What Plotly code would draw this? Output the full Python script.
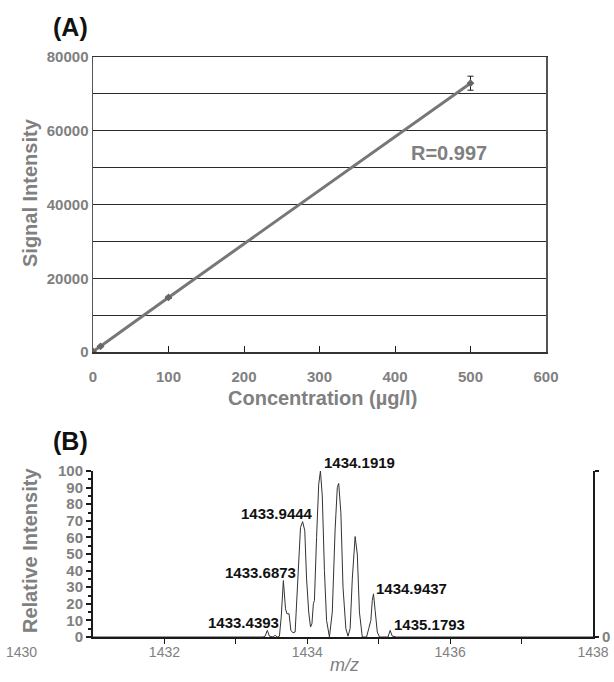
import plotly.graph_objects as go

# ---------------- Panel A data ----------------
conc = [0, 10, 100, 500]
signal = [150, 1550, 14800, 72900]
signal_err = [100, 150, 300, 1900]
r_text = "R=0.997"
a_xticks = [0, 100, 200, 300, 400, 500, 600]

# ---------------- Panel B data ----------------
mz = [1431.0, 1433.38, 1433.41, 1433.44, 1433.47, 1433.52, 1433.55, 1433.58,
      1433.61, 1433.635, 1433.665, 1433.695, 1433.715, 1433.745, 1433.77,
      1433.80, 1433.83, 1433.87, 1433.905, 1433.935, 1433.965, 1433.99,
      1434.02, 1434.045, 1434.065, 1434.085, 1434.10, 1434.13, 1434.16,
      1434.184, 1434.21, 1434.24, 1434.27, 1434.31, 1434.35, 1434.39,
      1434.42, 1434.44, 1434.47, 1434.50, 1434.54, 1434.57, 1434.60,
      1434.63, 1434.67, 1434.70, 1434.73, 1434.77, 1434.83, 1434.86,
      1434.89, 1434.91, 1434.927, 1434.95, 1434.98, 1435.01, 1435.13,
      1435.16, 1435.19, 1435.25, 1438.0]
intensity = [0, 0, 0.5, 4, 0.5, 0, 1, 0,
             0.5, 12, 34, 17, 14, 14, 4,
             2.5, 3, 35, 66, 69.5, 64, 35,
             15, 6, 8, 20, 22, 60, 92,
             100, 85, 40, 10, 0, 15, 65,
             90, 92.5, 75, 30, 5, 0.5, 5,
             35, 60.5, 50, 15, 0, 0, 5,
             10, 22, 26, 16, 3, 0, 0,
             4, 0.5, 0, 0]
peak_labels = ["1434.1919", "1433.9444", "1433.6873", "1434.9437", "1433.4393", "1435.1793"]
peak_label_x = [1434.724, 1433.576, 1433.338, 1435.452, 1433.100, 1435.704]
peak_label_y = [105.4, 74.1, 38.6, 29.5, 9.0, 7.8]
b_xtick_vals = [1430, 1432, 1434, 1436, 1438]
b_minor_ticks = [1432, 1433, 1434, 1435, 1436, 1437]

W, H = 614, 682
FONT = "Liberation Sans, Arial, Helvetica, sans-serif"
GRAY = "#808080"
DARK = "#1a1a1a"

# panel B vertical pixel geometry
B_BOTTOM, B_TOP = 637, 471


def px(x):
    return x / W


def py(y):
    return 1 - y / H


def b_paper_y(v):
    return py(B_BOTTOM - v * (B_BOTTOM - B_TOP) / 100.0)


fig = go.Figure()

# Panel A: calibration line
fig.add_trace(go.Scatter(
    x=conc, y=signal, mode="lines+markers",
    line=dict(color="#777777", width=3),
    marker=dict(symbol="diamond", size=6, color="#666666"),
    error_y=dict(type="data", array=signal_err, color=DARK, thickness=1, width=3),
    xaxis="x", yaxis="y", showlegend=False, hoverinfo="skip"))

# Panel B: spectrum
fig.add_trace(go.Scatter(
    x=mz, y=intensity, mode="lines",
    line=dict(color="#333333", width=1),
    xaxis="x3", yaxis="y2", showlegend=False, hoverinfo="skip"))
# empty traces so the label axis and the right axis render
fig.add_trace(go.Scatter(x=[], y=[], xaxis="x2", yaxis="y2", showlegend=False, hoverinfo="skip"))
fig.add_trace(go.Scatter(x=[], y=[], xaxis="x3", yaxis="y3", showlegend=False, hoverinfo="skip"))

L_B = 93 - 500 / 7  # pixel position of 1430

fig.update_layout(
    width=W, height=H, autosize=False,
    margin=dict(l=0, r=0, t=0, b=0),
    paper_bgcolor="white", plot_bgcolor="white",
    font=dict(family=FONT, color=GRAY),
    xaxis=dict(
        domain=[px(93), px(546)], range=[0, 600], anchor="y",
        tickvals=a_xticks, ticks="inside", ticklen=6, tickcolor=DARK,
        showline=True, linecolor="#333333", linewidth=1.5, mirror=True,
        showgrid=False, zeroline=False, automargin=False,
        tickfont=dict(size=15, color=GRAY, family=FONT, weight="bold"),
        ticklabelstandoff=10),
    yaxis=dict(
        domain=[py(352), py(57)], range=[0, 80000], anchor="x",
        tick0=0, dtick=20000, tickformat="d", ticks="",
        showline=True, linecolor="#555555", linewidth=1.5, mirror=True,
        showgrid=True, gridcolor="#2a2a2a", gridwidth=1,
        minor=dict(dtick=10000, tick0=0, showgrid=True, gridcolor="#2a2a2a", gridwidth=1),
        zeroline=False, automargin=False,
        tickfont=dict(size=15, color=GRAY, family=FONT, weight="bold")),
    # label axis for panel B (1430..1438)
    xaxis2=dict(
        domain=[px(L_B), px(593)], range=[1430, 1438], anchor="y2",
        tickvals=b_xtick_vals, ticks="", showline=False, showgrid=False,
        zeroline=False, automargin=False,
        tickfont=dict(size=14, color=GRAY, family=FONT),
        ticklabelstandoff=5),
    # data axis for panel B (1431..1438)
    xaxis3=dict(
        domain=[px(93), px(593)], range=[1431, 1438], anchor="y2",
        tickvals=b_minor_ticks, ticks="outside", ticklen=5, tickcolor=DARK,
        showticklabels=False, showline=True, linecolor=DARK, linewidth=2,
        showgrid=False, zeroline=False, automargin=False),
    yaxis2=dict(
        domain=[py(B_BOTTOM), py(B_TOP)], range=[0, 100], anchor="x3", side="left",
        tick0=0, dtick=10, ticks="outside", ticklen=5, tickwidth=2, tickcolor=DARK,
        minor=dict(dtick=5, tick0=0, ticks="outside", ticklen=3, tickcolor=DARK),
        showline=True, linecolor=DARK, linewidth=2, showgrid=False,
        zeroline=False, automargin=False,
        tickfont=dict(size=15, color=GRAY, family=FONT, weight="bold")),
    yaxis3=dict(
        overlaying="y2", range=[0, 100], anchor="x3", side="right",
        tickvals=[0, 100], ticktext=["0", ""], ticks="outside", ticklen=4,
        tickwidth=2, tickcolor=DARK,
        showline=True, linecolor=DARK, linewidth=2, showgrid=False,
        zeroline=False, automargin=False,
        tickfont=dict(size=15, color=GRAY, family=FONT, weight="bold")),
)


def note(text, x, y, size, color, angle=0):
    return dict(text=text, x=px(x), y=py(y), xref="paper", yref="paper",
                xanchor="center", yanchor="middle", textangle=angle,
                showarrow=False, font=dict(size=size, color=color, family=FONT))


annotations = [
    note("<b>(A)</b>", 70, 27, 25, "#111111"),
    note("<b>(B)</b>", 70, 441, 25, "#111111"),
    note("<b>Signal Intensity</b>", 30, 193, 20, GRAY, -90),
    note("<b>Concentration (µg/l)</b>", 322, 398, 20, GRAY),
    note("<b>Relative Intensity</b>", 30, 551, 20, GRAY, -90),
    note("<i>m/z</i>", 344, 665, 18, GRAY),
    dict(text="<b>" + r_text + "</b>", x=472, y=54100, xref="x", yref="y",
         xanchor="center", yanchor="middle",
         showarrow=False, font=dict(size=20, color=GRAY, family=FONT)),
]
for t, xv, yv in zip(peak_labels, peak_label_x, peak_label_y):
    annotations.append(dict(text="<b>" + t + "</b>", x=xv, y=b_paper_y(yv),
                            xref="x3", yref="paper", xanchor="center", yanchor="middle",
                            showarrow=False, font=dict(size=15, color="#111111", family=FONT)))
fig.update_layout(annotations=annotations)

fig.write_html(
    "out.html",
    config={"displayModeBar": False, "staticPlot": True},
    post_script="document.body.style.margin='0';document.body.style.padding='0';"
                "document.body.style.overflow='hidden';",
)
